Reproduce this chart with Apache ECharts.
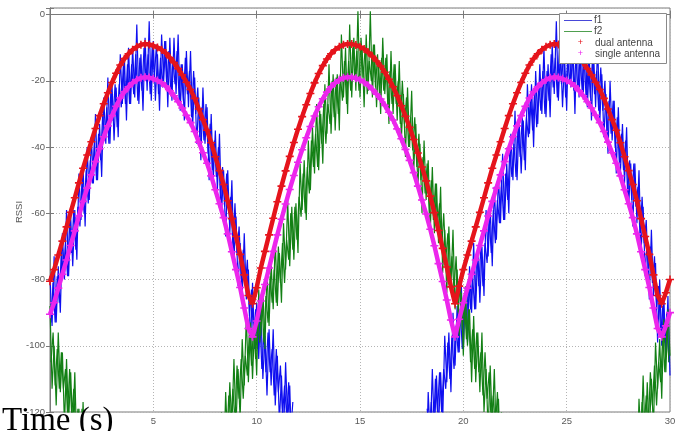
<!DOCTYPE html>
<html>
<head>
<meta charset="utf-8">
<script src="https://cdn.jsdelivr.net/npm/echarts@6/dist/echarts.min.js"></script>
<style>
html,body{margin:0;padding:0;background:#fff;}
#chart{width:686px;height:431px;}
</style>
</head>
<body>
<div id="chart"></div>
<script>
// ---- data ----
const xTickValues = [0, 5, 10, 15, 20, 25, 30];
const yTickValues = [0, -20, -40, -60, -80, -100, -120];

// dual antenna / single antenna: samples every 0.2 s starting at 0 s
const antennaStart = 0;
const antennaStep = 0.2;
const dualAntenna = [-80.5,-77,-72.6,-68.4,-64.1,-59.7,-55.3,-50.8,-46.4,-42.4,
-38.4,-34.4,-30.5,-26.9,-23.6,-20.5,-17.7,-15.2,-13.3,-11.8,
-10.6,-9.7,-9.1,-8.9,-9.0,-9.4,-9.9,-10.6,-11.6,-13.0,
-14.5,-16.3,-18.2,-20.4,-22.6,-25.3,-28.5,-31.7,-34.9,-38.7,
-42.9,-47.1,-51.3,-56.2,-61.6,-67,-72.4,-78.6,-84.8,-87.3,
-82.5,-76.5,-71.5,-66.5,-61.5,-56.5,-51.8,-47.2,-42.8,-38.6,
-34.6,-30.8,-27.2,-23.8,-20.6,-17.8,-15.4,-13.4,-11.8,-10.6,
-9.7,-9.1,-8.9,-8.9,-9.2,-9.7,-10.4,-11.4,-12.6,-14.0,
-15.5,-17.4,-19.5,-21.8,-24.5,-27.5,-30.7,-34,-37.7,-41.8,
-46,-50.2,-54.8,-59.8,-65.2,-70.6,-76.2,-82.2,-87.3,-82,
-77,-72.6,-68.4,-64.1,-59.7,-55.3,-50.8,-46.4,-42.4,-38.4,
-34.4,-30.5,-26.9,-23.6,-20.5,-17.7,-15.2,-13.3,-11.8,-10.6,
-9.7,-9.1,-8.9,-9.0,-9.4,-9.9,-10.6,-11.6,-13.0,-14.5,
-16.3,-18.2,-20.4,-22.6,-25.3,-28.5,-31.7,-34.9,-38.7,-42.9,
-47.1,-51.3,-56.2,-61.6,-67,-72.4,-78.6,-84.8,-87.3,-84,
-80];
const singleAntenna = [-90.5,-87,-82.6,-78.4,-74.1,-69.7,-65.3,-60.8,-56.4,-52.4,
-48.4,-44.4,-40.5,-36.9,-33.6,-30.5,-27.7,-25.2,-23.3,-21.8,
-20.6,-19.7,-19.1,-18.9,-19.0,-19.4,-19.9,-20.6,-21.6,-23.0,
-24.5,-26.3,-28.2,-30.4,-32.6,-35.3,-38.5,-41.7,-44.9,-48.7,
-52.9,-57.1,-61.3,-66.2,-71.6,-77,-82.4,-88.6,-94.8,-97.3,
-92.5,-86.5,-81.5,-76.5,-71.5,-66.5,-61.8,-57.2,-52.8,-48.6,
-44.6,-40.8,-37.2,-33.8,-30.6,-27.8,-25.4,-23.4,-21.8,-20.6,
-19.7,-19.1,-18.9,-18.9,-19.2,-19.7,-20.4,-21.4,-22.6,-24.0,
-25.5,-27.4,-29.5,-31.8,-34.5,-37.5,-40.7,-44,-47.7,-51.8,
-56,-60.2,-64.8,-69.8,-75.2,-80.6,-86.2,-92.2,-97.3,-92,
-87,-82.6,-78.4,-74.1,-69.7,-65.3,-60.8,-56.4,-52.4,-48.4,
-44.4,-40.5,-36.9,-33.6,-30.5,-27.7,-25.2,-23.3,-21.8,-20.6,
-19.7,-19.1,-18.9,-19.0,-19.4,-19.9,-20.6,-21.6,-23.0,-24.5,
-26.3,-28.2,-30.4,-32.6,-35.3,-38.5,-41.7,-44.9,-48.7,-52.9,
-57.1,-61.3,-66.2,-71.6,-77,-82.4,-88.6,-94.8,-97.3,-94,
-90];

// f1 / f2 raw RSSI: samples every 0.1 s (two interleaved sample sets, offset 0.05 s)
const rawStep = 0.1;
const f1StartA = 0;
const f1ValuesA = [-79,-94,-73,-93,-76,-90,-66,-80,-59,-79,
-61,-76,-59,-74,-48,-62,-46,-64,-40,-56,
-37,-51,-30,-50,-33,-49,-25,-39,-19,-39,
-21,-38,-22,-37,-12,-27,-13,-32,-10,-27,
-10,-25,-3,-27,-12,-29,-7,-23,-2,-26,
-8,-26,-12,-29,-6,-20,-8,-28,-7,-26,
-7,-24,-6,-29,-15,-32,-11,-28,-11,-34,
-19,-39,-25,-44,-22,-39,-28,-50,-30,-50,
-35,-53,-36,-60,-47,-67,-47,-66,-50,-74,
-61,-82,-69,-85,-66,-86,-77,-100,-81,-101,
-87,-104,-87,-110,-97,-115,-95,-112,-95,-118,
-103,-123,-109,-128,-105,-123,-112,-134,-121];
const f1StartA2 = 0.05;
const f1ValuesA2 = [-93,-81,-93,-79,-87,-71,-79,-69,-79,-62,
-72,-59,-71,-58,-64,-50,-60,-47,-57,-44,
-51,-38,-50,-36,-44,-30,-38,-28,-39,-22,
-32,-21,-34,-21,-28,-15,-27,-15,-27,-15,
-24,-12,-26,-13,-23,-10,-20,-12,-24,-9,
-19,-9,-24,-13,-22,-8,-22,-11,-24,-14,
-21,-11,-26,-15,-26,-13,-24,-17,-31,-17,
-30,-22,-37,-28,-38,-27,-42,-33,-47,-38,
-49,-40,-56,-46,-58,-48,-60,-55,-70,-57,
-72,-64,-80,-71,-82,-74,-91,-83,-98,-89,
-101,-91,-107,-96,-108,-96,-108,-101,-115,-101,
-114,-106,-121,-112,-121,-111,-126,-117];
const f1StartB = 18.2;
const f1ValuesB = [-138,-114,-128,-107,-127,-109,-125,-108,-123,-97,
-111,-96,-114,-90,-106,-88,-102,-81,-101,-84,
-99,-76,-90,-69,-89,-71,-87,-70,-85,-59,
-73,-58,-76,-52,-68,-49,-63,-42,-62,-45,
-60,-36,-50,-29,-50,-32,-48,-32,-47,-21,
-36,-21,-40,-17,-33,-15,-30,-10,-31,-15,
-31,-9,-24,-2,-26,-10,-28,-13,-29,-5,
-22,-9,-30,-6,-25,-9,-25,-7,-28,-14,
-32,-11,-28,-9,-33,-18,-37,-24,-42,-20,
-38,-26,-48,-28,-48,-33,-51,-34,-58,-45,
-64,-45,-63,-47,-72,-58,-79,-67,-86,-65,
-85,-75,-99,-80,-100,-85,-103,-85,-109];
const f1StartB2 = 18.25;
const f1ValuesB2 = [-119,-127,-117,-127,-110,-120,-108,-120,-107,-113,
-99,-110,-97,-107,-94,-102,-89,-101,-87,-95,
-80,-89,-79,-89,-72,-82,-70,-82,-69,-75,
-61,-72,-59,-69,-56,-63,-50,-62,-48,-56,
-41,-49,-39,-49,-33,-43,-31,-44,-31,-37,
-24,-35,-23,-34,-21,-29,-17,-30,-17,-26,
-12,-22,-13,-25,-9,-21,-11,-25,-13,-21,
-10,-23,-13,-23,-13,-23,-12,-27,-14,-25,
-13,-24,-17,-29,-16,-29,-20,-36,-26,-36,
-26,-40,-31,-45,-36,-47,-38,-54,-44,-56,
-45,-58,-52,-67,-55,-69,-62,-79,-70,-81,
-73,-89,-82,-97,-88,-99,-90,-105];
const f2StartA = 0;
const f2ValuesA = [-88,-113,-100,-118,-96,-114,-102,-124,-104,-123,-108,-126,-108,-132,-119,-138,-117,-135];
const f2StartA2 = 0.05;
const f2ValuesA2 = [-105,-96,-112,-101,-113,-102,-113,-107,-121,-107,-121,-113,-128,-119,-129,-119,-133];
const f2StartB = 8.2;
const f2ValuesB = [-135,-120,-138,-114,-130,-111,-125,-104,-124,-107,
-122,-98,-112,-91,-111,-93,-110,-93,-109,-83,
-97,-83,-101,-77,-94,-75,-89,-68,-88,-72,
-87,-63,-77,-56,-76,-58,-74,-57,-72,-45,
-59,-44,-62,-38,-53,-34,-48,-27,-47,-30,
-45,-21,-36,-15,-36,-18,-35,-18,-35,-6,
-25,-10,-30,-3,-25,-7,-23,1,-25,-10,
-28,-6,-23,1,-25,-9,-28,-14,-30,-7,
-24,-12,-33,-11,-30,-15,-32,-14,-38,-24,
-43,-22,-40,-23,-47,-33,-52,-39,-60,-38,
-56,-44,-66,-46,-66,-51,-69,-52,-78,-65,
-84,-64,-82,-65,-89,-77,-97,-84,-103,-82,
-100,-89,-111,-91,-111,-96,-114,-96,-120,-107,
-126,-106,-124,-107,-130,-116,-136,-123];
const f2StartB2 = 8.25;
const f2ValuesB2 = [-124,-136,-122,-130,-115,-123,-113,-123,-106,-116,
-104,-116,-103,-109,-95,-106,-94,-104,-92,-99,
-86,-99,-85,-93,-79,-87,-77,-87,-70,-81,
-69,-81,-68,-74,-60,-71,-58,-68,-55,-61,
-48,-60,-46,-54,-38,-46,-36,-46,-29,-39,
-27,-39,-27,-33,-20,-31,-19,-30,-18,-26,
-14,-27,-14,-23,-10,-19,-11,-23,-7,-19,
-10,-24,-14,-20,-9,-22,-12,-25,-13,-23,
-13,-28,-17,-27,-15,-27,-20,-33,-20,-33,
-25,-40,-31,-41,-31,-46,-36,-50,-43,-54,
-45,-60,-50,-62,-51,-63,-57,-71,-60,-74,
-66,-82,-73,-83,-73,-90,-81,-95,-86,-98,
-89,-105,-95,-107,-96,-108,-102,-115,-102,-116,
-108,-124,-115,-125,-114,-129,-120];
const f2StartC = 28.2;
const f2ValuesC = [-142,-125,-140,-116,-130,-109,-129,-111,-127,-110,-125,-99,-113,-98,-116,-92,-108,-89,-103];
const f2StartC2 = 28.25;
const f2ValuesC2 = [-126,-138,-124,-132,-117,-125,-115,-125,-108,-118,-106,-118,-105,-111,-97,-108,-95,-105];

const legendNames = ['f1', 'f2', 'dual antenna', 'single antenna'];
const yAxisTitle = 'RSSI';
const xAxisTitle = 'Time (s)';

// ---- build ----
function toPairs(start, step, values) {
  return values.map((v, i) => [Math.round((start + i * step) * 1000) / 1000, v]);
}

const COLORS = {
  f1: '#0f0ff0',
  f2: '#138015',
  dual: '#e5141c',
  single: '#ec26ec'
};
const PLUS = 'path://M4,0H6V4H10V6H6V10H4V6H0V4H4Z';
const labelFont = '"Liberation Sans", Arial, sans-serif';

function rawSeries(name, start, values, color) {
  return {
    name: name, type: 'line', data: toPairs(start, rawStep, values),
    showSymbol: false, symbol: 'none', clip: true, animation: false,
    lineStyle: { color: color, width: 1.2 }, z: 2
  };
}
function antSeries(name, values, color, z) {
  return {
    name: name, type: 'line', data: toPairs(antennaStart, antennaStep, values),
    symbol: PLUS, symbolSize: 8, showSymbol: true, clip: true, animation: false,
    itemStyle: { color: color }, lineStyle: { color: color, width: 4.5 }, z: z
  };
}

const chart = echarts.init(document.getElementById('chart'), null, { renderer: 'canvas' });
const axisLineStyle = { color: '#7a7a7a', width: 1 };

const option = {
  animation: false,
  backgroundColor: '#ffffff',
  grid: { left: 50, right: 16, top: 8, bottom: 19, show: true, borderColor: '#7a7a7a', borderWidth: 1, backgroundColor: '#fff' },
  xAxis: [{
    type: 'value', min: 0, max: 30, interval: 5, position: 'bottom',
    axisLine: { show: true, lineStyle: axisLineStyle },
    axisTick: { show: true, inside: true, length: 4, lineStyle: axisLineStyle },
    axisLabel: { color: '#5a5a5a', fontSize: 9.5, fontFamily: labelFont, margin: 4,
      formatter: v => (xTickValues.indexOf(v) > 0 ? String(v) : '') },
    splitLine: { show: true, lineStyle: { color: '#b4b4b4', type: [1, 2], width: 1 } }
  }, {
    type: 'value', min: 0, max: 30, interval: 5, position: 'top',
    axisLine: { show: true, lineStyle: axisLineStyle },
    axisTick: { show: true, inside: true, length: 4, lineStyle: axisLineStyle },
    axisLabel: { show: false }, splitLine: { show: false }
  }],
  yAxis: [{
    type: 'value', min: -120, max: 2, interval: 20, position: 'left',
    axisLine: { show: true, lineStyle: axisLineStyle },
    axisTick: { show: true, inside: true, length: 4, lineStyle: axisLineStyle },
    axisLabel: { color: '#5a5a5a', fontSize: 9.5, fontFamily: labelFont, margin: 5,
      formatter: v => (yTickValues.indexOf(v) >= 0 ? String(v) : '') },
    splitLine: { show: true, lineStyle: { color: '#b4b4b4', type: [1, 2], width: 1 } }
  }, {
    type: 'value', min: -120, max: 2, interval: 20, position: 'right',
    axisLine: { show: true, lineStyle: axisLineStyle },
    axisTick: { show: true, inside: true, length: 4, lineStyle: axisLineStyle },
    axisLabel: { show: false }, splitLine: { show: false }
  }],
  series: [
    rawSeries(legendNames[0], f1StartA, f1ValuesA, COLORS.f1),
    rawSeries(legendNames[0], f1StartA2, f1ValuesA2, COLORS.f1),
    rawSeries(legendNames[0], f1StartB, f1ValuesB, COLORS.f1),
    rawSeries(legendNames[0], f1StartB2, f1ValuesB2, COLORS.f1),
    rawSeries(legendNames[1], f2StartA, f2ValuesA, COLORS.f2),
    rawSeries(legendNames[1], f2StartA2, f2ValuesA2, COLORS.f2),
    rawSeries(legendNames[1], f2StartB, f2ValuesB, COLORS.f2),
    rawSeries(legendNames[1], f2StartB2, f2ValuesB2, COLORS.f2),
    rawSeries(legendNames[1], f2StartC, f2ValuesC, COLORS.f2),
    rawSeries(legendNames[1], f2StartC2, f2ValuesC2, COLORS.f2),
    antSeries(legendNames[2], dualAntenna, COLORS.dual, 4),
    antSeries(legendNames[3], singleAntenna, COLORS.single, 5)
  ],
  graphic: [
    // legend box
    { type: 'rect', z: 100, shape: { x: 559.5, y: 13.5, width: 107, height: 50 },
      style: { fill: '#ffffff', stroke: '#8a8a8a', lineWidth: 1 } },
    { type: 'line', z: 101, shape: { x1: 564, y1: 20.5, x2: 592, y2: 20.5 }, style: { stroke: '#4848d8', lineWidth: 1 } },
    { type: 'line', z: 101, shape: { x1: 564, y1: 31.5, x2: 592, y2: 31.5 }, style: { stroke: '#4f9f4f', lineWidth: 1 } },
    { type: 'text', z: 101, style: { x: 594, y: 20.5, text: legendNames[0], font: '10px ' + labelFont, fill: '#444', textVerticalAlign: 'middle' } },
    { type: 'text', z: 101, style: { x: 594, y: 31.5, text: legendNames[1], font: '10px ' + labelFont, fill: '#444', textVerticalAlign: 'middle' } },
    { type: 'text', z: 101, style: { x: 580.5, y: 43, text: '+', font: '9px ' + labelFont, fill: '#e5141c', textAlign: 'center', textVerticalAlign: 'middle' } },
    { type: 'text', z: 101, style: { x: 580.5, y: 54, text: '+', font: '9px ' + labelFont, fill: '#ec26ec', textAlign: 'center', textVerticalAlign: 'middle' } },
    { type: 'text', z: 101, style: { x: 595, y: 43, text: legendNames[2], font: '10px ' + labelFont, fill: '#444', textVerticalAlign: 'middle' } },
    { type: 'text', z: 101, style: { x: 595, y: 54, text: legendNames[3], font: '10px ' + labelFont, fill: '#444', textVerticalAlign: 'middle' } },
    // axis titles
    { type: 'text', z: 100, rotation: Math.PI / 2, x: 19, y: 212,
      style: { text: yAxisTitle, font: '9.5px ' + labelFont, fill: '#5a5a5a', textAlign: 'center', textVerticalAlign: 'middle' } },
    { type: 'text', z: 100, left: 2, top: 405,
      style: { text: xAxisTitle, font: '33px "Liberation Serif", "Times New Roman", serif', fill: '#000' } }
  ]
};
chart.setOption(option);
</script>
</body>
</html>
